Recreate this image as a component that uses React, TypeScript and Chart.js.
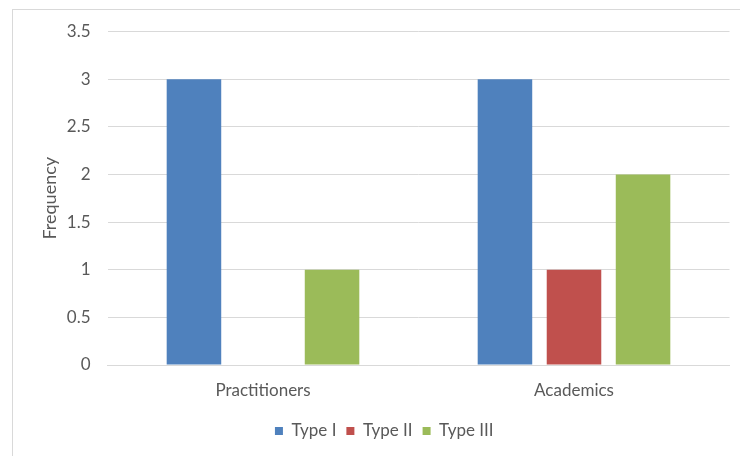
import React, { useEffect, useRef } from "react";
import { Chart, registerables } from "chart.js";

Chart.register(...registerables);

const categories = ["Practitioners", "Academics"];
const seriesNames = ["Type I", "Type II", "Type III"];
const typeI = [3, 3];
const typeII = [0, 1];
const typeIII = [1, 2];
const seriesColors = ["#4F81BD", "#C0504D", "#9BBB59"];
const yTicks = [0, 0.5, 1, 1.5, 2, 2.5, 3, 3.5];

const FONT = "Lato, 'Noto Sans', sans-serif";
const TEXT = "#595959";
const GRID = "#d9d9d9";

export default function App() {
  const canvasRef = useRef<HTMLCanvasElement | null>(null);

  useEffect(() => {
    document.body.style.margin = "0";
    const canvas = canvasRef.current;
    if (!canvas) return;
    const values = [typeI, typeII, typeIII];
    const chart = new Chart(canvas, {
      type: "bar",
      data: {
        labels: categories,
        datasets: seriesNames.map((name, i) => ({
          label: name,
          data: values[i],
          backgroundColor: seriesColors[i],
          borderWidth: 0,
          categoryPercentage: 0.666,
          barPercentage: 0.79,
        })),
      },
      options: {
        responsive: false,
        animation: false,
        devicePixelRatio: 1,
        layout: { padding: { top: 31.5, right: 10.5, bottom: 6.5, left: 39 } },
        plugins: {
          tooltip: { enabled: false },
          legend: {
            position: "bottom",
            labels: {
              boxWidth: 8,
              boxHeight: 8,
              padding: 10,
              color: TEXT,
              font: { family: FONT, size: 17 },
            },
          },
        },
        scales: {
          x: {
            grid: { display: false, drawTicks: false },
            border: { display: true, color: GRID, width: 1 },
            ticks: { color: TEXT, font: { family: FONT, size: 17 }, padding: 15 },
            afterFit: (s: any) => {
              s.height = 47.5;
            },
          },
          y: {
            min: 0,
            max: 3.5,
            afterBuildTicks: (s: any) => {
              s.ticks = yTicks.map((v) => ({ value: v }));
            },
            grid: { color: GRID, lineWidth: 1, drawTicks: false },
            border: { display: false },
            ticks: {
              color: TEXT,
              font: { family: FONT, size: 17 },
              padding: 17,
              callback: (v: any) => String(v),
            },
            title: {
              display: true,
              text: "Frequency",
              color: TEXT,
              font: { family: FONT, size: 18 },
              padding: 0,
            },
            afterFit: (s: any) => {
              s.width = 68.5;
            },
          },
        },
      },
    });
    return () => chart.destroy();
  }, []);

  return (
    <div style={{ position: "relative", width: 740, height: 456, background: "#fff", overflow: "hidden" }}>
      <div
        style={{
          position: "absolute",
          left: 12,
          top: 8.5,
          width: 740,
          height: 460,
          borderLeft: "1.5px solid #d9d9d9",
          borderTop: "1.5px solid #d9d9d9",
        }}
      />
      <canvas ref={canvasRef} width={740} height={456} style={{ position: "absolute", left: 0, top: 0 }} />
    </div>
  );
}
